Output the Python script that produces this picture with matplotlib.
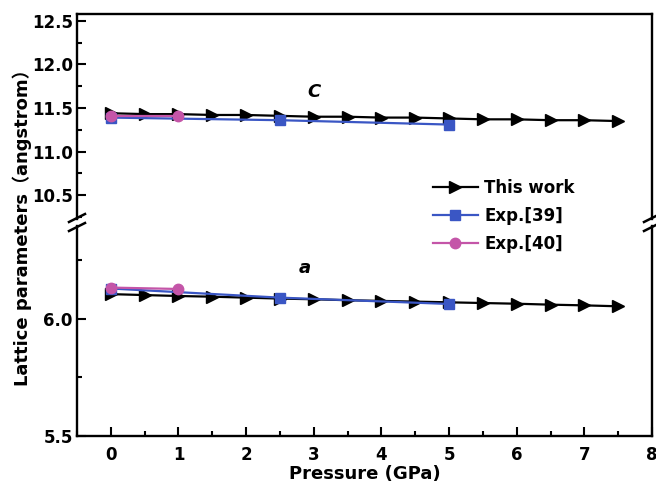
import matplotlib
matplotlib.use("Agg")
import matplotlib.pyplot as plt
from matplotlib.lines import Line2D
from matplotlib.ticker import MultipleLocator, FormatStrFormatter

plt.rcParams['font.family'] = ['DejaVu Sans', 'Noto Sans CJK SC']
plt.rcParams['font.weight'] = 'bold'

# lattice parameters vs pressure
p_this = [0, 0.5, 1, 1.5, 2, 2.5, 3, 3.5, 4, 4.5, 5, 5.5, 6, 6.5, 7, 7.5]
c_this = [11.44, 11.43, 11.43, 11.42, 11.42, 11.41, 11.40, 11.40,
          11.39, 11.39, 11.38, 11.37, 11.37, 11.36, 11.36, 11.35]
a_this = [6.106, 6.102, 6.098, 6.095, 6.091, 6.087, 6.084, 6.080,
          6.077, 6.074, 6.071, 6.068, 6.065, 6.061, 6.058, 6.054]

p_exp39 = [0, 2.5, 5]
c_exp39 = [11.39, 11.36, 11.31]
a_exp39 = [6.130, 6.091, 6.064]

p_exp40 = [0, 1]
c_exp40 = [11.41, 11.41]
a_exp40 = [6.134, 6.128]

blue = '#3a56c4'
pink = '#c455a8'

W, H = 656, 487
fig = plt.figure(figsize=(W/100, H/100), dpi=100)
left, right = 77/W, 652/W
ax_top = fig.add_axes([left, 1-219/H, right-left, (219-14)/H])
ax_bot = fig.add_axes([left, 1-436/H, right-left, (436-226)/H])

def plot_series(ax, c1, c2, c3):
    ax.plot(p_this, c1, color='black', marker='>', ms=8, lw=1.6, label='This work', zorder=3)
    ax.plot(p_exp39, c2, color=blue, marker='s', ms=6.5, lw=1.6, label='Exp.[39]', zorder=4)
    ax.plot(p_exp40, c3, color=pink, marker='o', ms=7.5, lw=1.6, label='Exp.[40]', zorder=5)

plot_series(ax_top, c_this, c_exp39, c_exp40)
plot_series(ax_bot, a_this, a_exp39, a_exp40)

for ax in (ax_top, ax_bot):
    ax.set_xlim(-0.5, 8)
    for s in ax.spines.values():
        s.set_linewidth(1.7)
    ax.tick_params(which='major', direction='in', length=6.5, width=1.5, labelsize=12)
    ax.tick_params(which='minor', direction='in', length=3.5, width=1.5)
    ax.tick_params(axis='y', which='both', right=False, pad=3)
    ax.tick_params(axis='x', which='both', top=False)
    ax.xaxis.set_major_locator(MultipleLocator(1))
    ax.xaxis.set_minor_locator(MultipleLocator(0.5))
    ax.yaxis.set_major_locator(MultipleLocator(0.5))
    ax.yaxis.set_minor_locator(MultipleLocator(0.25))
    ax.yaxis.set_major_formatter(FormatStrFormatter('%.1f'))

ax_top.set_ylim(10.225, 12.58)
ax_top.spines['bottom'].set_visible(False)
ax_top.tick_params(axis='x', which='both', bottom=False, labelbottom=False)

ax_bot.set_ylim(5.5, 6.397)
ax_bot.spines['top'].set_visible(False)
ax_bot.tick_params(axis='x', pad=7)

ax_top.text(3.0, 11.68, 'C', fontsize=13, style='italic', weight='bold', ha='center', va='center')
ax_bot.text(2.86, 6.218, 'a', fontsize=13, style='italic', weight='bold', ha='center', va='center')

# axis break marks
for xp in (left, right):
    for yp in (218, 227):
        cx, cy = xp*W, H-yp
        fig.add_artist(Line2D([(cx-8)/W, (cx+8)/W], [(cy-4)/H, (cy+4)/H],
                              color='black', lw=1.8, transform=fig.transFigure))

ax_bot.set_xlabel('Pressure (GPa)', fontsize=13, weight='bold', labelpad=1)
fig.text(22/W, 1-223/H, 'Lattice parameters（angstrom）', rotation=90,
         fontsize=13, weight='bold', ha='center', va='center')

handles, labels = ax_top.get_legend_handles_labels()
fig.legend(handles, labels, loc='upper left', bbox_to_anchor=(426/W, 1-172/H),
           frameon=False, fontsize=12, handlelength=2.7, handletextpad=0.4,
           labelspacing=0.6, borderaxespad=0)

fig.savefig('out.png', dpi=100)
